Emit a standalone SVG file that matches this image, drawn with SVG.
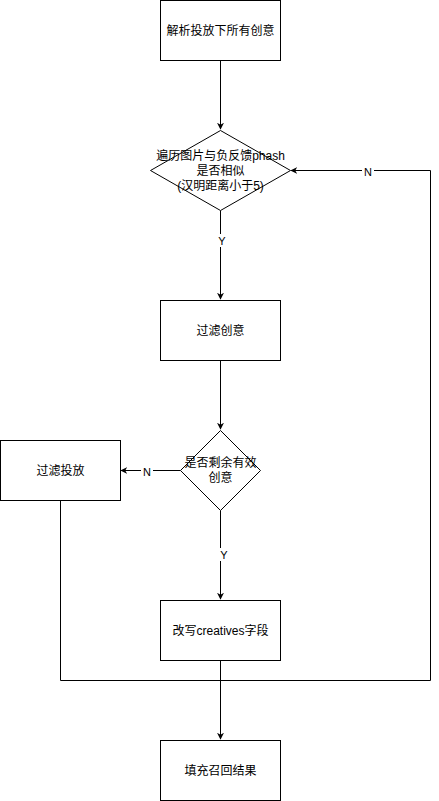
<svg xmlns="http://www.w3.org/2000/svg" width="439" height="801" viewBox="0 0 439 801">
<style>
.n{fill:#fff;stroke:#000;stroke-width:1}
.t{font-family:"Liberation Sans","Noto Sans CJK SC",sans-serif;font-size:12px;fill:#000;text-anchor:middle}
.e{fill:none;stroke:#000;stroke-width:1}
.l{font-family:"Liberation Sans","Noto Sans CJK SC",sans-serif;font-size:11px;fill:#000;text-anchor:middle}
</style>
<defs>
<marker id="a" viewBox="0 0 10 10" refX="9" refY="5" markerWidth="7" markerHeight="7" orient="auto" markerUnits="userSpaceOnUse">
<path d="M0,0 L10,5 L0,10 L3,5 Z" fill="#000"/>
</marker>
</defs>
<rect width="439" height="801" fill="#fff"/>
<g id="edges">
<path class="e" d="M220.5,60.5 V129" marker-end="url(#a)"/>
<path class="e" d="M220.5,210.5 V299" marker-end="url(#a)"/>
<rect x="216" y="234" width="10" height="13" fill="#fff"/>
<text class="l" x="222" y="244.5">Y</text>
<path class="e" d="M220.5,360.5 V429" marker-end="url(#a)"/>
<path class="e" d="M180.5,470.5 H121" marker-end="url(#a)"/>
<rect x="141" y="465" width="12" height="13" fill="#fff"/>
<text class="l" x="147" y="475.5">N</text>
<path class="e" d="M220.5,510.5 V599" marker-end="url(#a)"/>
<rect x="218" y="548" width="12" height="13" fill="#fff"/>
<text class="l" x="224" y="558.5">Y</text>
<path class="e" d="M220.5,660.5 V739" marker-end="url(#a)"/>
<path class="e" d="M60.5,500.5 V680.5 H430.5 V170.5 H291" marker-end="url(#a)"/>
<rect x="362" y="165" width="12" height="13" fill="#fff"/>
<text class="l" x="368" y="175.5">N</text>
</g>
<g id="n1">
<rect class="n" x="160.5" y="0.5" width="120" height="60"/>
<text class="t" x="220.5" y="34.5">解析投放下所有创意</text>
</g>
<g id="n2">
<path class="n" d="M220.5,130.5 L290.5,170.5 L220.5,210.5 L150.5,170.5 Z"/>
<text class="t" x="220.5" y="159.5">遍历图片与负反馈phash</text>
<text class="t" x="220.5" y="174.5">是否相似</text>
<text class="t" x="220.5" y="189.5">(汉明距离小于5)</text>
</g>
<g id="n3">
<rect class="n" x="160.5" y="300.5" width="120" height="60"/>
<text class="t" x="220.5" y="334.5">过滤创意</text>
</g>
<g id="n4">
<path class="n" d="M220.5,430.5 L260.5,470.5 L220.5,510.5 L180.5,470.5 Z"/>
<text class="t" x="220.5" y="466.5">是否剩余有效</text>
<text class="t" x="220.5" y="481.5">创意</text>
</g>
<g id="n5">
<rect class="n" x="0.5" y="440.5" width="120" height="60"/>
<text class="t" x="60.5" y="474.5">过滤投放</text>
</g>
<g id="n6">
<rect class="n" x="160.5" y="600.5" width="120" height="60"/>
<text class="t" x="220.5" y="634.5">改写creatives字段</text>
</g>
<g id="n7">
<rect class="n" x="160.5" y="740.5" width="120" height="60"/>
<text class="t" x="220.5" y="774.5">填充召回结果</text>
</g>
</svg>
